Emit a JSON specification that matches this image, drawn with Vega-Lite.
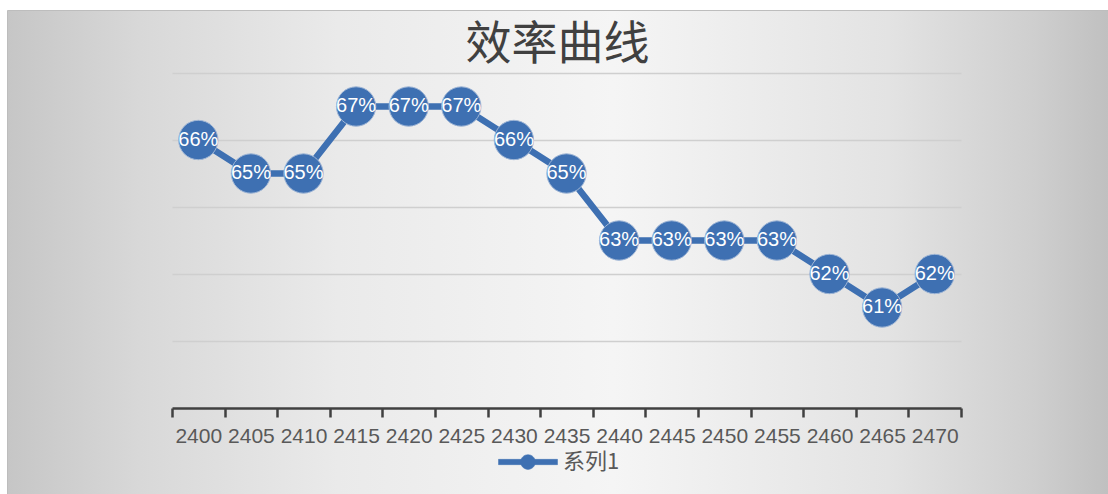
{
  "$schema": "https://vega.github.io/schema/vega-lite/v6.json",
  "autosize": {"type": "none"},
  "padding": {"left": 7, "top": 10, "right": 0, "bottom": 0},
  "width": 1101,
  "height": 484,
  "background": "#ffffff",
  "config": {
    "view": {
      "fill": {
        "gradient": "linear",
        "x1": 0, "y1": 0, "x2": 1, "y2": 0,
        "stops": [
          {"offset": 0, "color": "#c6c6c6"},
          {"offset": 0.12, "color": "#d8d8d8"},
          {"offset": 0.3, "color": "#eaeaea"},
          {"offset": 0.55, "color": "#f5f5f5"},
          {"offset": 0.8, "color": "#e3e3e3"},
          {"offset": 0.93, "color": "#cfcfcf"},
          {"offset": 1, "color": "#c0c0c0"}
        ]
      },
      "stroke": "#bdbdbd",
      "strokeWidth": 1
    }
  },
  "title": {
    "text": "效率曲线",
    "font": "Noto Sans CJK SC",
    "fontSize": 46,
    "fontWeight": "normal",
    "color": "#404040",
    "anchor": "middle",
    "frame": "group",
    "baseline": "middle",
    "offset": -34,
    "dy": 47
  },
  "data": {
    "values": [
      {"wl": "2400", "eff": 0.66},
      {"wl": "2405", "eff": 0.65},
      {"wl": "2410", "eff": 0.65},
      {"wl": "2415", "eff": 0.67},
      {"wl": "2420", "eff": 0.67},
      {"wl": "2425", "eff": 0.67},
      {"wl": "2430", "eff": 0.66},
      {"wl": "2435", "eff": 0.65},
      {"wl": "2440", "eff": 0.63},
      {"wl": "2445", "eff": 0.63},
      {"wl": "2450", "eff": 0.63},
      {"wl": "2455", "eff": 0.63},
      {"wl": "2460", "eff": 0.62},
      {"wl": "2465", "eff": 0.61},
      {"wl": "2470", "eff": 0.62}
    ]
  },
  "layer": [
    {
      "mark": {"type": "line", "strokeWidth": 6.5},
      "encoding": {
        "x": {
          "field": "wl",
          "type": "ordinal",
          "scale": {"type": "band", "paddingInner": 0, "paddingOuter": 0, "range": [165, 954]},
          "axis": {
            "title": null,
            "orient": "bottom",
            "offset": -86,
            "domain": true,
            "domainColor": "#404040",
            "domainWidth": 2.5,
            "grid": false,
            "tickBand": "extent",
            "tickSize": 9,
            "tickWidth": 2.5,
            "tickColor": "#404040",
            "labelAngle": 0,
            "labelFont": "Liberation Sans",
            "labelFontSize": 21,
            "labelColor": "#595959",
            "labelPadding": 8
          }
        },
        "y": {
          "field": "eff",
          "type": "quantitative",
          "scale": {"domain": [0.554328, 0.698806], "nice": false, "zero": false},
          "axis": {
            "title": null,
            "values": [0.6, 0.62, 0.64, 0.66, 0.68],
            "labels": false,
            "ticks": false,
            "domain": false,
            "grid": true,
            "gridColor": "#cfcfcf",
            "gridWidth": 1.5
          }
        },
        "color": {
          "datum": "系列1",
          "type": "nominal",
          "scale": {"range": ["#3e70b2"]},
          "legend": {
            "title": null,
            "orient": "none",
            "legendX": 491,
            "legendY": 422,
            "padding": 0,
            "symbolType": "M-1,-0.09H1V0.09H-1Z M-0.25,0A0.25,0.25 0 1,1 0.25,0A0.25,0.25 0 1,1 -0.25,0Z",
            "symbolSize": 3481,
            "symbolFillColor": "#3e70b2",
            "symbolStrokeColor": "#3e70b2",
            "symbolStrokeWidth": 0.5,
            "labelFont": "Noto Sans CJK SC",
            "labelFontSize": 22,
            "labelColor": "#595959",
            "labelOffset": 5
          }
        }
      }
    },
    {
      "mark": {"type": "circle", "size": 1550, "fill": "#3e70b2", "opacity": 1, "stroke": "#9fb6d6", "strokeWidth": 1},
      "encoding": {
        "x": {"field": "wl", "type": "ordinal"},
        "y": {"field": "eff", "type": "quantitative"}
      }
    },
    {
      "mark": {"type": "text", "fill": "#ffffff", "font": "Liberation Sans", "fontSize": 20, "align": "center", "baseline": "middle"},
      "encoding": {
        "x": {"field": "wl", "type": "ordinal"},
        "y": {"field": "eff", "type": "quantitative"},
        "text": {"field": "eff", "type": "quantitative", "format": ".0%"}
      }
    }
  ]
}
